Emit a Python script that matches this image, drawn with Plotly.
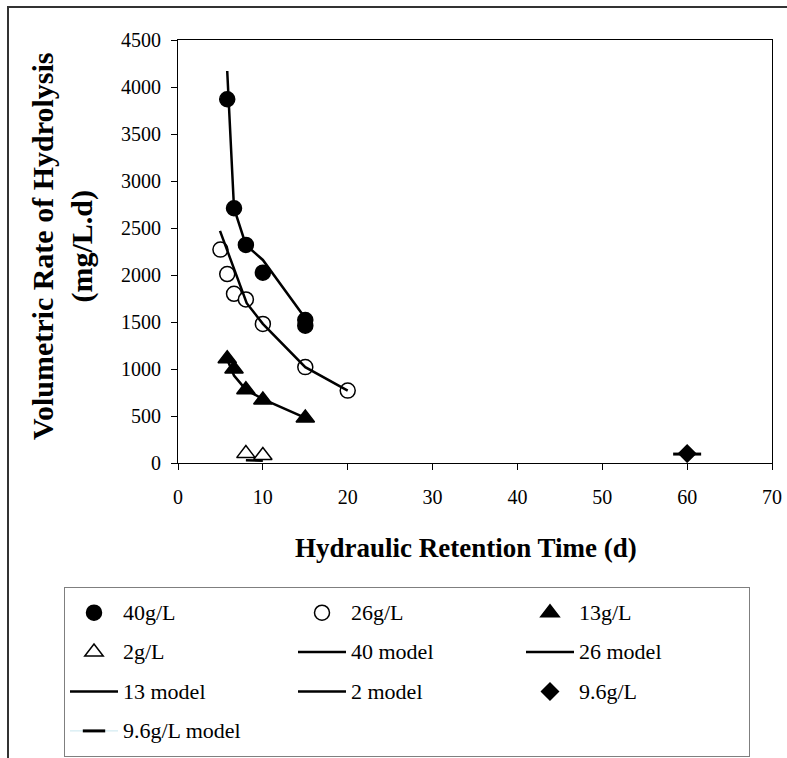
import plotly.graph_objects as go

# Hydraulic retention time (d) and volumetric hydrolysis rate (mg/L.d)
hrt_40 = [5.8, 6.6, 8, 10, 15, 15]
rate_40 = [3870, 2710, 2320, 2025, 1520, 1460]
hrt_40_model = [5.8, 6.6, 8, 9, 10, 15]
rate_40_model = [4170, 2710, 2320, 2240, 2160, 1540]

hrt_26 = [5, 5.8, 6.6, 8, 10, 15, 20]
rate_26 = [2270, 2010, 1800, 1740, 1480, 1020, 770]
hrt_26_model = [4.95, 8.1, 10, 15, 20]
rate_26_model = [2470, 1700, 1480, 1020, 770]

hrt_13 = [5.8, 6.6, 8, 10, 15]
rate_13 = [1110, 1000, 780, 670, 480]
hrt_13_model = [5.8, 6.6, 8, 10, 15]
rate_13_model = [1100, 930, 780, 680, 480]

hrt_2 = [8, 10]
rate_2 = [100, 80]
hrt_2_model = [8, 10]
rate_2_model = [30, 25]

hrt_96 = [60]
rate_96 = [100]
hrt_96_model = [60]
rate_96_model = [95]

x_ticks = [0, 10, 20, 30, 40, 50, 60, 70]
y_ticks = [0, 500, 1000, 1500, 2000, 2500, 3000, 3500, 4000, 4500]

FONT = "Liberation Serif"
W, H = 787, 758
ML, MR, MT, MB = 178, 15, 40, 295
PW, PH = W - ML - MR, H - MT - MB


def px_x(p):
    return (p - ML) / PW


def px_y(p):
    return (H - MB - p) / PH


def label(name):
    # legend rows are tall (font 28) while the visible text is 22px, lifted a little
    return ('<span style="font-size:9px"><sup><span style="font-size:22px">'
            + name + '</span></sup></span>')


fig = go.Figure()

def pts(x, y, name, symbol, fill, size=14):
    fig.add_trace(go.Scatter(
        x=x, y=y, mode="markers", name=label(name),
        marker=dict(symbol=symbol, size=size, color=fill,
                    line=dict(color="black", width=1.5)),
    ))

def model(x, y, name):
    fig.add_trace(go.Scatter(
        x=x, y=y, mode="lines", name=label(name),
        line=dict(color="black", width=2.5),
    ))

pts(hrt_40, rate_40, "40g/L", "circle", "black", 15)
pts(hrt_26, rate_26, "26g/L", "circle", "white", 15)
pts(hrt_13, rate_13, "13g/L", "triangle-up", "black", 16)
pts(hrt_2, rate_2, "2g/L", "triangle-up", "white", 16)
model(hrt_40_model, rate_40_model, "40 model")
model(hrt_26_model, rate_26_model, "26 model")
model(hrt_13_model, rate_13_model, "13 model")
model(hrt_2_model, rate_2_model, "2 model")
pts(hrt_96, rate_96, "9.6g/L", "diamond", "black", 13)
fig.add_trace(go.Scatter(
    x=hrt_96_model, y=rate_96_model, mode="lines+markers", name=label("9.6g/L model"),
    line=dict(color="#c9e6ee", width=1),
    marker=dict(symbol="line-ew", size=20, line=dict(color="black", width=3)),
))

axis_common = dict(
    showgrid=False, zeroline=False, showline=True, linecolor="black", linewidth=1,
    mirror=True, ticks="outside", ticklen=6, tickcolor="black", tickwidth=1,
    tickfont=dict(family=FONT, size=20, color="black"),
)

fig.update_xaxes(range=[0, 70], tickvals=x_ticks, ticklabelstandoff=10, **axis_common)
fig.update_yaxes(range=[0, 4500], tickvals=y_ticks, ticklabelstandoff=6, **axis_common)

fig.update_layout(
    width=W, height=H,
    margin=dict(l=ML, r=MR, t=MT, b=MB, pad=0, autoexpand=False),
    paper_bgcolor="white", plot_bgcolor="white",
    font=dict(family=FONT, color="black"),
    showlegend=True,
    legend=dict(
        orientation="h", x=px_x(64), xanchor="left", y=px_y(587), yanchor="top",
        font=dict(family=FONT, size=28, color="black"),
        itemwidth=48, entrywidth=165, entrywidthmode="pixels",
        bordercolor="#7f7f7f", borderwidth=1, bgcolor="white",
        traceorder="normal",
    ),
    annotations=[
        dict(text="<b>Hydraulic Retention Time (d)</b>", xref="paper", yref="paper",
             x=px_x(466), y=px_y(548), xanchor="center", yanchor="middle",
             showarrow=False, font=dict(family=FONT, size=27, color="black")),
        dict(text="<b>Volumetric Rate of Hydrolysis<br>(mg/L.d)</b>", xref="paper", yref="paper",
             x=px_x(62), y=px_y(247), xanchor="center", yanchor="middle", textangle=-90,
             showarrow=False, font=dict(family=FONT, size=30, color="black")),
    ],
    shapes=[
        dict(type="rect", xref="paper", yref="paper",
             x0=px_x(8), x1=px_x(800), y0=px_y(7), y1=px_y(775),
             line=dict(color="#333333", width=2), layer="below"),
    ],
)

fig.write_html("out.html")
